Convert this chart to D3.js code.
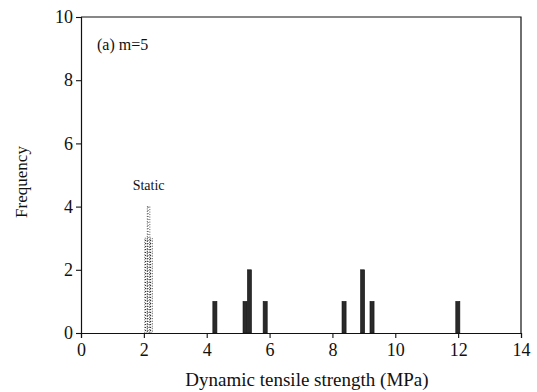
<!DOCTYPE html>
<html>
<head>
<meta charset="utf-8">
<script src="https://cdn.jsdelivr.net/npm/d3@7"></script>
<style>
  body { margin: 0; background: #fff; }
  svg { display: block; }
  svg text { font-family: "Liberation Serif", "Times New Roman", "DejaVu Serif", serif !important; }
</style>
</head>
<body>
<svg id="chart" width="537" height="392"></svg>
<script>
// dynamic test results: bar centre (MPa) and frequency
const dynX = [4.26, 5.22, 5.36, 5.86, 8.37, 8.96, 9.26, 11.99];
const dynFreq = [1, 1, 2, 1, 1, 2, 1, 1];
// static test results
const staticX = [2.07, 2.15, 2.23];
const staticFreq = [3, 4, 3];
const xTicks = [0, 2, 4, 6, 8, 10, 12, 14];
const yTicks = [0, 2, 4, 6, 8, 10];

const width = 537, height = 392;
const margin = { top: 17, right: 16, bottom: 59, left: 81 };

const svg = d3.select('#chart');

const x = d3.scaleLinear().domain([0, 14]).range([margin.left, width - margin.right]);
const y = d3.scaleLinear().domain([0, 10]).range([height - margin.bottom, margin.top]);

// stipple pattern for the static bars
const defs = svg.append('defs');
const pat = defs.append('pattern')
  .attr('id', 'dots')
  .attr('width', 2.5).attr('height', 3)
  .attr('patternUnits', 'userSpaceOnUse');
pat.append('rect').attr('width', 1).attr('height', 1).attr('fill', '#222');

const barW = 0.13;
svg.append('g')
  .selectAll('rect')
  .data(dynX)
  .join('rect')
  .attr('x', (d) => x(d - barW / 2))
  .attr('y', (d, i) => y(dynFreq[i]))
  .attr('width', x(barW) - x(0))
  .attr('height', (d, i) => y(0) - y(dynFreq[i]))
  .attr('fill', '#2a2a2a')
  .attr('stroke', '#111')
  .attr('stroke-width', 0.6);

const sW = 0.08;
svg.append('g')
  .selectAll('rect')
  .data(staticX)
  .join('rect')
  .attr('x', (d) => x(d - sW / 2))
  .attr('y', (d, i) => y(staticFreq[i]))
  .attr('width', x(sW) - x(0))
  .attr('height', (d, i) => y(0) - y(staticFreq[i]))
  .attr('fill', 'url(#dots)')
  .attr('stroke', '#333')
  .attr('stroke-width', 0.8)
  .attr('stroke-dasharray', '1,1.5');

// frame: top and right
svg.append('path')
  .attr('d', `M${x(0)},${y(10)}H${x(14)}V${y(0)}`)
  .attr('fill', 'none')
  .attr('stroke', '#111')
  .attr('stroke-width', 1.2);

// bottom axis
const gx = svg.append('g')
  .attr('transform', `translate(0,${y(0)})`);
gx.call(d3.axisBottom(x).tickValues(d3.range(0, 15, 1)).tickSize(3).tickFormat(''));
gx.call(d3.axisBottom(x).tickValues(xTicks).tickSize(5).tickPadding(5).tickFormat(d3.format('d')));

// left axis
const gy = svg.append('g')
  .attr('transform', `translate(${x(0)},0)`);
gy.call(d3.axisLeft(y).tickValues(d3.range(0, 11, 1)).tickSize(3).tickFormat(''));
gy.call(d3.axisLeft(y).tickValues(yTicks).tickSize(5).tickPadding(3).tickFormat(d3.format('d')));

svg.selectAll('.domain').attr('stroke', '#111').attr('stroke-width', 1.2);
svg.selectAll('.tick line').attr('stroke', '#111').attr('stroke-width', 1.1);
svg.selectAll('.tick text')
  .attr('fill', '#111')
  .style('font-size', '18px');

// labels
svg.append('text')
  .attr('x', 307)
  .attr('y', 386)
  .attr('text-anchor', 'middle')
  .attr('font-size', 19)
  .attr('fill', '#111')
  .text('Dynamic tensile strength (MPa)');

svg.append('text')
  .attr('transform', `translate(27,182) rotate(-90)`)
  .attr('text-anchor', 'middle')
  .attr('font-size', 17)
  .attr('fill', '#111')
  .text('Frequency');

svg.append('text')
  .attr('x', 97)
  .attr('y', 50)
  .attr('font-size', 16)
  .attr('fill', '#111')
  .text('(a) m=5');

svg.append('text')
  .attr('x', x(2.15))
  .attr('y', 190)
  .attr('text-anchor', 'middle')
  .attr('font-size', 14)
  .attr('fill', '#111')
  .text('Static');
</script>
</body>
</html>
